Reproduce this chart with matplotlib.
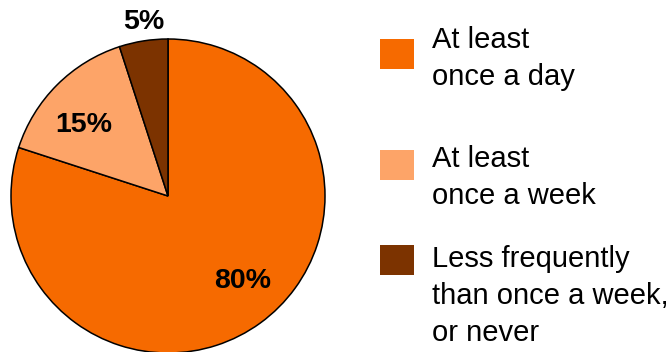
import numpy as np
import matplotlib
matplotlib.use("Agg")
import matplotlib.pyplot as plt
from matplotlib.patches import Rectangle

plt.rcParams['font.family'] = ['Liberation Sans', 'DejaVu Sans']

# data
categories = ["At least\nonce a day",
              "At least\nonce a week",
              "Less frequently\nthan once a week,\nor never"]
shares = [80, 15, 5]
colors = ["#F66A00", "#FDA468", "#7C3300"]

W, H = 670, 352
fig = plt.figure(figsize=(W / 100, H / 100), dpi=100)
ax = fig.add_axes([0, 0, 1, 1])

# pie in pixel-like coordinates (y up)
cx, cy, r = 168, H - 196, 157
wedges, texts, autotexts = ax.pie(
    shares, colors=colors, startangle=90, counterclock=False,
    center=(cx, cy), radius=r, autopct='%d%%', pctdistance=0.71,
    wedgeprops=dict(edgecolor='black', linewidth=1.1),
    textprops=dict(fontsize=20.5, fontweight='bold', color='black'))

# label placement: (distance as fraction of radius, angle shift in degrees)
label_place = [(0.72, 5), (0.70, 5), (1.12, -1)]
for w, t, (d, shift) in zip(wedges, autotexts, label_place):
    mid = np.deg2rad((w.theta1 + w.theta2) / 2 + shift)
    t.set_position((cx + d * r * np.cos(mid), cy + d * r * np.sin(mid)))

ax.set_xlim(0, W)
ax.set_ylim(0, H)
ax.set_aspect('equal')
ax.axis('off')

# legend drawn by hand
box_top = [39, 150, 245]
text_top = [26, 145, 245]
for lab, col, bt, tt in zip(categories, colors, box_top, text_top):
    ax.add_patch(Rectangle((380, H - bt - 30), 34, 30, facecolor=col, edgecolor='none'))
    ax.text(432, H - tt, lab, fontsize=21, va='top', ha='left', linespacing=1.4)

fig.savefig("out.png", dpi=100)
